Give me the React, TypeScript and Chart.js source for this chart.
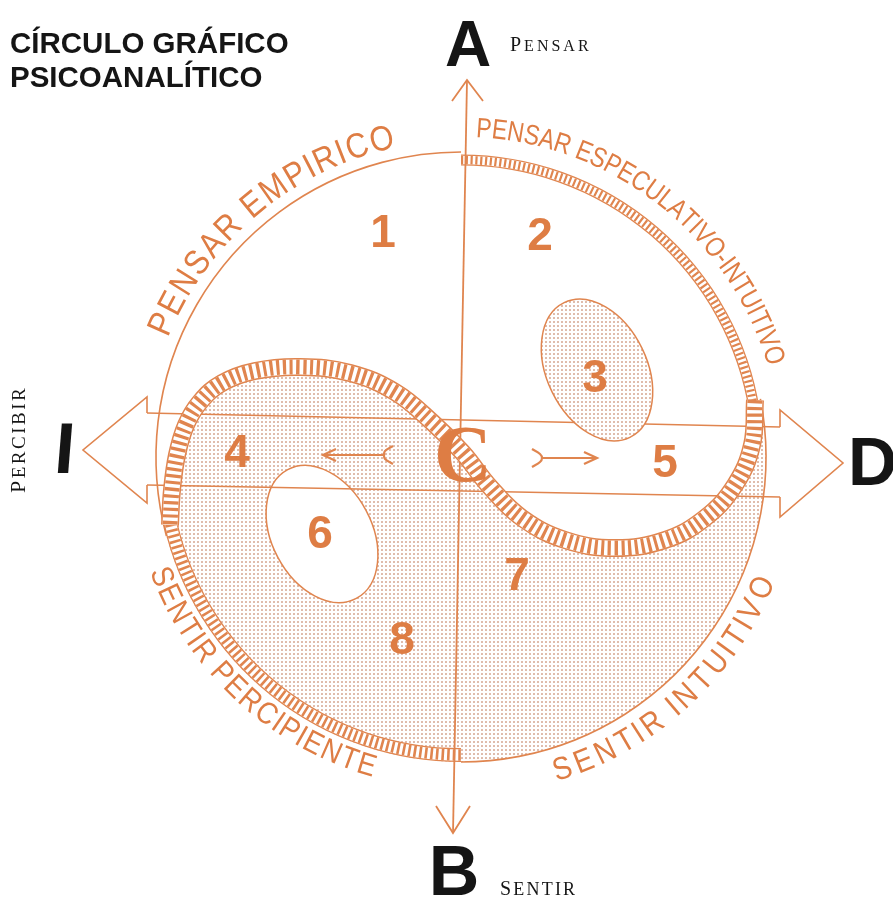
import React, { useEffect, useRef } from 'react';
import { Chart, registerables } from 'chart.js';

Chart.register(...registerables);

const CANVAS_W = 893;
const CANVAS_H = 900;

const ORANGE = '#E0854F';
const TEXT_ORANGE = '#DE7D44';
const DOT_COLOR = '#d2a08a';
const BLACK = '#151515';
const SANS = '"Liberation Sans", Arial, Helvetica, sans-serif';
const SERIF = '"Liberation Serif", "Times New Roman", serif';

// ---- diagram data (units = picture pixels, y downwards) ----
const CIRCLE_CENTER = [461, 457];
const CIRCLE_RADIUS = 305;

// S-shaped (yin-yang) separation line, from the right edge to the left edge
const S_CURVE_X = [755, 752, 735, 705, 665, 615, 565, 522, 490, 463, 432, 395, 350, 300, 255, 222, 200, 186, 177, 172, 170];
const S_CURVE_Y = [400, 445, 485, 518, 540, 548, 540, 518, 487, 453, 422, 392, 373, 367, 371, 383, 402, 425, 455, 490, 525];

// hatched rings along the circle (canvas angles in degrees)
const RING_UPPER = { from: -90, to: -9, radius: 297, width: 11, dash: [2.2, 2.6] };
const RING_LOWER = { from: 167, to: 90, radius: 298, width: 14, dash: [2.6, 3] };

const VERTICAL_AXIS = [[467, 80], [453, 833]];
const TOP_ARROWHEAD = [[452, 101], [467, 80], [483, 101]];
const BOTTOM_ARROWHEAD = [[436, 806], [453, 833], [470, 806]];
const UPPER_BAND_LINE = [[147, 413], [780, 427]];
const LOWER_BAND_LINE = [[147, 485], [780, 497]];
const LEFT_ARROW = [[147, 413], [147, 397], [83, 450], [147, 503], [147, 485]];
const RIGHT_ARROW = [[780, 427], [780, 410], [843, 463], [780, 517], [780, 497]];

const SMALL_LEFT_SHAFT = [[323, 455], [385, 455]];
const SMALL_LEFT_HEAD = [[336, 449], [323, 455], [336, 461]];
const SMALL_LEFT_TAIL = [[393, 446], [385, 451], [384, 455], [385, 459], [393, 464]];
const SMALL_RIGHT_SHAFT = [[542, 458], [597, 458]];
const SMALL_RIGHT_HEAD = [[584, 452], [597, 458], [584, 464]];
const SMALL_RIGHT_TAIL = [[532, 449], [540, 454], [542, 458], [540, 462], [532, 467]];

const ELLIPSE_3 = [597, 370, 50, 75, -26]; // cx, cy, rx, ry, rotation deg
const ELLIPSE_6 = [322, 534, 50, 73, -28];

const ZONE_LABELS = ['1', '2', '3', '4', '5', '6', '7', '8'];
const ZONE_X = [383, 540, 595, 237, 665, 320, 517, 402];
const ZONE_Y = [232, 235, 377, 452, 462, 533, 575, 639];

const ARC_TEXTS = ['PENSAR EMPIRICO', 'PENSAR ESPECULATIVO-INTUITIVO', 'SENTIR PERCIPIENTE', 'SENTIR INTUITIVO'];
const ARC_START_DEG = [156, 86, 201.8, 288];
const ARC_END_DEG = [104, 18, 253, 336.5];
const ARC_RADIUS = [326, 328, 323, 329];
const ARC_FONT_PX = [35, 28, 31, 32];
const ARC_SCALE_X = [0.88, 0.82, 0.88, 0.88];

const TITLE_LINES = ['CÍRCULO GRÁFICO', 'PSICOANALÍTICO'];
const POLE_LETTERS = ['A', 'B', 'I', 'D'];
const POLE_WORDS = ['PENSAR', 'SENTIR', 'PERCIBIR'];

// ---- helpers ----
const toPts = (arr: number[][]) => arr.map(([x, y]) => ({ x, y }));
const sCurvePts = () => S_CURVE_X.map((x, i) => ({ x, y: S_CURVE_Y[i] }));

function lineDataset(label: string, data: { x: number; y: number }[], extra: any = {}) {
  return {
    label,
    data,
    showLine: true,
    fill: false,
    pointRadius: 0,
    pointHoverRadius: 0,
    borderColor: ORANGE,
    borderWidth: 1.6,
    tension: 0,
    order: 10,
    ...extra,
  };
}

function splinePath(ctx: CanvasRenderingContext2D, pts: { x: number; y: number }[], t: number) {
  const n = pts.length;
  const cps = pts.map((p, i) => {
    const prev = pts[Math.max(i - 1, 0)];
    const next = pts[Math.min(i + 1, n - 1)];
    const d01 = Math.hypot(p.x - prev.x, p.y - prev.y);
    const d12 = Math.hypot(next.x - p.x, next.y - p.y);
    let s01 = d01 / (d01 + d12);
    let s12 = d12 / (d01 + d12);
    if (isNaN(s01)) s01 = 0;
    if (isNaN(s12)) s12 = 0;
    const fa = t * s01;
    const fb = t * s12;
    return {
      c1x: p.x - fa * (next.x - prev.x),
      c1y: p.y - fa * (next.y - prev.y),
      c2x: p.x + fb * (next.x - prev.x),
      c2y: p.y + fb * (next.y - prev.y),
    };
  });
  ctx.moveTo(pts[0].x, pts[0].y);
  for (let i = 1; i < n; i++) {
    ctx.bezierCurveTo(cps[i - 1].c2x, cps[i - 1].c2y, cps[i].c1x, cps[i].c1y, pts[i].x, pts[i].y);
  }
}

function dotPattern(ctx: CanvasRenderingContext2D) {
  const c = document.createElement('canvas');
  c.width = 4;
  c.height = 4;
  const g = c.getContext('2d')!;
  g.fillStyle = DOT_COLOR;
  g.beginPath();
  g.arc(2, 2, 0.95, 0, Math.PI * 2);
  g.fill();
  return ctx.createPattern(c, 'repeat')!;
}

function drawArcText(
  ctx: CanvasRenderingContext2D,
  text: string,
  cx: number,
  cy: number,
  r: number,
  startDeg: number,
  endDeg: number,
  fontPx: number,
  scaleX: number
) {
  ctx.save();
  ctx.font = `${fontPx}px ${SANS}`;
  ctx.fillStyle = TEXT_ORANGE;
  ctx.textAlign = 'center';
  ctx.textBaseline = 'middle';
  const chars = Array.from(text);
  const w = chars.map((c) => ctx.measureText(c).width * scaleX);
  const total = w.reduce((a, b) => a + b, 0);
  const inner = total - w[0] / 2 - w[w.length - 1] / 2;
  const a0 = (startDeg * Math.PI) / 180;
  const a1 = (endDeg * Math.PI) / 180;
  const span = Math.abs(a1 - a0) * r;
  const k = span / inner;
  const dir = a1 > a0 ? 1 : -1;
  const outward = dir < 0;
  let cum = 0;
  chars.forEach((c, i) => {
    const s = (cum + w[i] / 2 - w[0] / 2) * k;
    cum += w[i];
    const a = a0 + (dir * s) / r;
    const x = cx + r * Math.cos(a);
    const y = cy - r * Math.sin(a);
    const rot = outward ? Math.PI / 2 - a : -Math.PI / 2 - a;
    ctx.save();
    ctx.translate(x, y);
    ctx.rotate(rot);
    ctx.scale(scaleX, 1);
    ctx.fillText(c, 0, 0);
    ctx.restore();
  });
  ctx.restore();
}

function drawSmallCaps(
  ctx: CanvasRenderingContext2D,
  text: string,
  x: number,
  y: number,
  big: number,
  small: number,
  spacing: number
) {
  let cx = x;
  for (let i = 0; i < text.length; i++) {
    ctx.font = `${i === 0 ? big : small}px ${SERIF}`;
    ctx.fillText(text[i], cx, y);
    cx += ctx.measureText(text[i]).width + spacing;
  }
}

function bandArc(
  ctx: CanvasRenderingContext2D,
  cx: number,
  cy: number,
  r: number,
  fromDeg: number,
  toDeg: number,
  width: number,
  dash: number[]
) {
  const a0 = (fromDeg * Math.PI) / 180;
  const a1 = (toDeg * Math.PI) / 180;
  const ccw = a1 < a0;
  const path = () => {
    ctx.beginPath();
    ctx.arc(cx, cy, r, a0, a1, ccw);
  };
  ctx.save();
  ctx.lineCap = 'butt';
  path();
  ctx.setLineDash([]);
  ctx.strokeStyle = ORANGE;
  ctx.lineWidth = width;
  ctx.stroke();
  path();
  ctx.strokeStyle = '#ffffff';
  ctx.lineWidth = width - 2.6;
  ctx.stroke();
  path();
  ctx.strokeStyle = ORANGE;
  ctx.setLineDash(dash);
  ctx.lineWidth = width - 2.6;
  ctx.stroke();
  ctx.restore();
}

const diagramPlugin = {
  id: 'psicoDiagram',
  beforeDraw(chart: any) {
    const ctx = chart.ctx as CanvasRenderingContext2D;
    ctx.save();
    ctx.fillStyle = '#ffffff';
    ctx.fillRect(0, 0, chart.width, chart.height);
    ctx.restore();
  },
  beforeDatasetsDraw(chart: any) {
    const ctx = chart.ctx as CanvasRenderingContext2D;
    const xs = chart.scales.x;
    const ys = chart.scales.y;
    const px = (v: number) => xs.getPixelForValue(v);
    const py = (v: number) => ys.getPixelForValue(v);
    const cx = px(CIRCLE_CENTER[0]);
    const cy = py(CIRCLE_CENTER[1]);
    const rp = (r: number) => Math.abs(px(CIRCLE_CENTER[0] + r) - cx);
    const R = rp(CIRCLE_RADIUS);
    const pattern = dotPattern(ctx);

    // dotted lower region bounded by the S-curve and the circle
    const sp = sCurvePts().map((p) => ({ x: px(p.x), y: py(p.y) }));
    const first = sp[0];
    const last = sp[sp.length - 1];
    const aRight = Math.atan2(first.y - cy, first.x - cx);
    const aLeft = Math.atan2(last.y - cy, last.x - cx);
    ctx.save();
    ctx.beginPath();
    splinePath(ctx, sp, 0.4);
    ctx.arc(cx, cy, R, aLeft, aRight, true);
    ctx.closePath();
    ctx.fillStyle = pattern;
    ctx.fill();
    ctx.restore();

    // ellipse 6 (white, inside dotted region)
    const [e6x, e6y, e6rx, e6ry, e6r] = ELLIPSE_6;
    ctx.save();
    ctx.beginPath();
    ctx.ellipse(px(e6x), py(e6y), rp(e6rx), rp(e6ry), (e6r * Math.PI) / 180, 0, Math.PI * 2);
    ctx.fillStyle = '#ffffff';
    ctx.fill();
    ctx.strokeStyle = ORANGE;
    ctx.lineWidth = 1.5;
    ctx.stroke();
    ctx.restore();

    // thin circle where there is no hatched ring
    ctx.save();
    ctx.strokeStyle = ORANGE;
    ctx.lineWidth = 1.6;
    ctx.beginPath();
    ctx.arc(cx, cy, R, (165 * Math.PI) / 180, (270 * Math.PI) / 180, false);
    ctx.stroke();
    ctx.beginPath();
    ctx.arc(cx, cy, R, (-11 * Math.PI) / 180, (90 * Math.PI) / 180, false);
    ctx.stroke();
    ctx.restore();

    // hatched rings along the circle
    bandArc(ctx, cx, cy, rp(RING_UPPER.radius), RING_UPPER.from, RING_UPPER.to, RING_UPPER.width, RING_UPPER.dash);
    bandArc(ctx, cx, cy, rp(RING_LOWER.radius), RING_LOWER.from, RING_LOWER.to, RING_LOWER.width, RING_LOWER.dash);
  },
  afterDatasetsDraw(chart: any) {
    const ctx = chart.ctx as CanvasRenderingContext2D;
    const xs = chart.scales.x;
    const ys = chart.scales.y;
    const px = (v: number) => xs.getPixelForValue(v);
    const py = (v: number) => ys.getPixelForValue(v);
    const cx = px(CIRCLE_CENTER[0]);
    const cy = py(CIRCLE_CENTER[1]);
    const rp = (r: number) => Math.abs(px(CIRCLE_CENTER[0] + r) - cx);

    // ellipse 3 (dotted, in the upper white region)
    const [e3x, e3y, e3rx, e3ry, e3r] = ELLIPSE_3;
    ctx.save();
    ctx.beginPath();
    ctx.ellipse(px(e3x), py(e3y), rp(e3rx), rp(e3ry), (e3r * Math.PI) / 180, 0, Math.PI * 2);
    ctx.fillStyle = '#ffffff';
    ctx.fill();
    ctx.fillStyle = dotPattern(ctx);
    ctx.fill();
    ctx.strokeStyle = ORANGE;
    ctx.lineWidth = 1.5;
    ctx.stroke();
    ctx.restore();

    // zone numbers
    ctx.save();
    ctx.fillStyle = TEXT_ORANGE;
    ctx.font = `bold 46px ${SANS}`;
    ctx.textAlign = 'center';
    ctx.textBaseline = 'middle';
    ZONE_LABELS.forEach((t, i) => ctx.fillText(t, px(ZONE_X[i]), py(ZONE_Y[i]) + 2));
    // central C
    ctx.font = `bold 80px ${SERIF}`;
    ctx.textBaseline = 'alphabetic';
    ctx.fillText('C', px(463), py(481));
    ctx.restore();

    // texts along the circle
    ARC_TEXTS.forEach((t, i) =>
      drawArcText(ctx, t, cx, cy, rp(ARC_RADIUS[i]), ARC_START_DEG[i], ARC_END_DEG[i], ARC_FONT_PX[i], ARC_SCALE_X[i])
    );

    // title
    ctx.save();
    ctx.fillStyle = BLACK;
    ctx.font = `bold 29.5px ${SANS}`;
    ctx.textAlign = 'left';
    ctx.textBaseline = 'alphabetic';
    ctx.fillText(TITLE_LINES[0], px(10), py(53));
    ctx.fillText(TITLE_LINES[1], px(10), py(87));

    // pole letters
    ctx.textAlign = 'center';
    ctx.font = `bold 64px ${SANS}`;
    ctx.fillText(POLE_LETTERS[0], px(468), py(66));
    ctx.font = `bold 70px ${SANS}`;
    ctx.fillText(POLE_LETTERS[1], px(454), py(895));
    ctx.save();
    ctx.translate(px(63), py(473));
    ctx.transform(1, 0, -0.08, 1, 0, 0);
    ctx.font = `bold 72px ${SANS}`;
    ctx.fillText(POLE_LETTERS[2], 0, 0);
    ctx.restore();
    ctx.textAlign = 'left';
    ctx.font = `bold 68px ${SANS}`;
    ctx.fillText(POLE_LETTERS[3], px(848), py(485));

    // pole words (small caps serif)
    ctx.textAlign = 'left';
    drawSmallCaps(ctx, POLE_WORDS[0], px(510), py(51), 20, 16, 3);
    drawSmallCaps(ctx, POLE_WORDS[1], px(500), py(895), 20, 18, 2.2);
    ctx.save();
    ctx.translate(px(17), py(441));
    ctx.rotate(-Math.PI / 2);
    drawSmallCaps(ctx, POLE_WORDS[2], -52, 8, 22, 19, 2.5);
    ctx.restore();
    ctx.restore();
  },
};

export default function App() {
  const ref = useRef<HTMLCanvasElement>(null);
  useEffect(() => {
    if (!ref.current) return;
    const sBand = sCurvePts();
    const chart = new Chart(ref.current, {
      type: 'scatter',
      data: {
        datasets: [
          lineDataset('S hatch', sBand, { tension: 0.4, borderWidth: 15, borderDash: [3.2, 3.5], order: 1 }),
          lineDataset('S white', sBand, { tension: 0.4, borderWidth: 15, borderColor: '#ffffff', order: 2 }),
          lineDataset('S edge', sBand, { tension: 0.4, borderWidth: 18, order: 3 }),
          lineDataset('vertical axis', toPts(VERTICAL_AXIS), { borderWidth: 1.8 }),
          lineDataset('top arrowhead', toPts(TOP_ARROWHEAD), { borderWidth: 1.8 }),
          lineDataset('bottom arrowhead', toPts(BOTTOM_ARROWHEAD), { borderWidth: 1.8 }),
          lineDataset('upper band line', toPts(UPPER_BAND_LINE)),
          lineDataset('lower band line', toPts(LOWER_BAND_LINE)),
          lineDataset('left arrow', toPts(LEFT_ARROW)),
          lineDataset('right arrow', toPts(RIGHT_ARROW)),
          lineDataset('small left shaft', toPts(SMALL_LEFT_SHAFT), { borderWidth: 2.2 }),
          lineDataset('small left head', toPts(SMALL_LEFT_HEAD), { borderWidth: 2.2 }),
          lineDataset('small left tail', toPts(SMALL_LEFT_TAIL), { borderWidth: 2.2, tension: 0.4 }),
          lineDataset('small right shaft', toPts(SMALL_RIGHT_SHAFT), { borderWidth: 2.2 }),
          lineDataset('small right head', toPts(SMALL_RIGHT_HEAD), { borderWidth: 2.2 }),
          lineDataset('small right tail', toPts(SMALL_RIGHT_TAIL), { borderWidth: 2.2, tension: 0.4 }),
        ],
      },
      options: {
        animation: false,
        responsive: false,
        maintainAspectRatio: false,
        events: [],
        layout: { padding: 0 },
        plugins: { legend: { display: false }, tooltip: { enabled: false } },
        scales: {
          x: { type: 'linear', min: 0, max: CANVAS_W, display: false },
          y: { type: 'linear', min: 0, max: CANVAS_H, reverse: true, display: false },
        },
      },
      plugins: [diagramPlugin],
    } as any);
    return () => chart.destroy();
  }, []);
  return (
    <div style={{ position: 'absolute', left: 0, top: 0, width: CANVAS_W, height: CANVAS_H }}>
      <canvas ref={ref} width={CANVAS_W} height={CANVAS_H} style={{ display: 'block' }} />
    </div>
  );
}
